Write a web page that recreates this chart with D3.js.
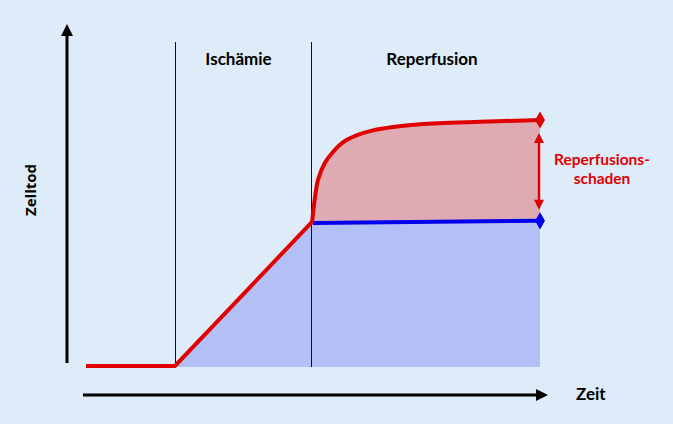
<!DOCTYPE html>
<html>
<head>
<meta charset="utf-8">
<script src="https://cdn.jsdelivr.net/npm/d3@7"></script>
<style>
  body { margin: 0; background: #deebf8; }
  svg { display: block; }
  .phase { font-family: Lato, "Open Sans", sans-serif; font-weight: bold; font-size: 17px; fill: #000; }
  .axlabel { font-family: Lato, "Open Sans", sans-serif; font-weight: bold; font-size: 17px; fill: #000; }
  .ylabel { font-family: "Open Sans", sans-serif; font-weight: bold; font-size: 15px; fill: #000; }
  .damage { font-family: Lato, "Open Sans", sans-serif; font-weight: bold; font-size: 15.5px; fill: #e00000; }
</style>
</head>
<body>
<svg id="chart" width="673" height="424"></svg>
<script>
// time axis (arbitrary units) and cell death (%)
let baseline = [{t: 0, v: 0}, {t: 1.96, v: 0}]
let ischemia = [{t: 1.96, v: 0}, {t: 4.98, v: 41.9}]
let reperfusionRed = [
    {t: 4.98, v: 41.9}, {t: 5.01, v: 45.5}, {t: 5.04, v: 48.6}, {t: 5.11, v: 54.1},
    {t: 5.26, v: 59.0}, {t: 5.44, v: 62.2}, {t: 5.66, v: 65.0}, {t: 5.97, v: 67.1},
    {t: 6.32, v: 68.5}, {t: 6.76, v: 69.5}, {t: 7.36, v: 70.3}, {t: 8.68, v: 71.0},
    {t: 10, v: 71.5}
]
let reperfusionBlue = [{t: 5.0, v: 41.6}, {t: 10, v: 42.2}]
let phaseLines = [1.96, 4.96]
let phaseLabels = [{text: "Ischämie", t: 3.36}, {text: "Reperfusion", t: 7.62}]

let svg = d3.select("#chart")
let x = d3.scaleLinear().domain([0, 10]).range([86, 540])
let y = d3.scaleLinear().domain([0, 100]).range([366, 22])

let defs = svg.append("defs")
function arrowMarker(id, color, w, h) {
    defs.append("marker")
        .attr("id", id)
        .attr("viewBox", "0 0 10 10")
        .attr("refX", 5).attr("refY", 5)
        .attr("markerUnits", "userSpaceOnUse")
        .attr("markerWidth", w).attr("markerHeight", h)
        .attr("orient", "auto-start-reverse")
        .append("path")
        .attr("d", "M0,0 L10,5 L0,10 Z")
        .attr("fill", color)
}
arrowMarker("blackArrow", "#000", 14, 12)
arrowMarker("redArrow", "#e00000", 11, 10)

// fills: pink under red curve, blue on top
let area = d3.area().x(d => x(d.t)).y0(y(0)).y1(d => y(d.v)).curve(d3.curveCatmullRom)
svg.append("path")
    .datum(reperfusionRed)
    .attr("d", area)
    .attr("fill", "#dfaab2")
svg.append("path")
    .datum(ischemia.concat(reperfusionBlue))
    .attr("d", d3.area().x(d => x(d.t)).y0(y(0) + 1).y1(d => y(d.v)))
    .attr("fill", "#b3c0f7")

// phase separators (snapped to half pixels so they stay crisp)
svg.selectAll(".sep")
    .data(phaseLines)
    .enter()
    .append("line")
    .attr("x1", d => Math.round(x(d)) + 0.5).attr("x2", d => Math.round(x(d)) + 0.5)
    .attr("y1", 42).attr("y2", 367)
    .attr("stroke", "#111")
    .attr("stroke-width", 1)

svg.selectAll(".phase")
    .data(phaseLabels)
    .enter()
    .append("text")
    .attr("class", "phase")
    .attr("x", d => x(d.t))
    .attr("y", 65)
    .attr("text-anchor", "middle")
    .text(d => d.text)

// axes
svg.append("line")
    .attr("x1", 67).attr("x2", 67)
    .attr("y1", 363).attr("y2", 30)
    .attr("stroke", "#000").attr("stroke-width", 3)
    .attr("marker-end", "url(#blackArrow)")
svg.append("line")
    .attr("x1", 83).attr("x2", 542)
    .attr("y1", 395).attr("y2", 395)
    .attr("stroke", "#000").attr("stroke-width", 3)
    .attr("marker-end", "url(#blackArrow)")

svg.append("text")
    .attr("class", "axlabel")
    .attr("x", 576).attr("y", 400)
    .text("Zeit")
svg.append("text")
    .attr("class", "ylabel")
    .attr("transform", `translate(${36},${190}) rotate(-90)`)
    .attr("text-anchor", "middle")
    .text("Zelltod")

// curves
let line = d3.line().x(d => x(d.t)).y(d => y(d.v))
svg.append("path")
    .datum(reperfusionBlue)
    .attr("d", line)
    .attr("fill", "none")
    .attr("stroke", "#0000ee")
    .attr("stroke-width", 4)
svg.append("path")
    .datum(baseline.concat(ischemia.slice(1)))
    .attr("d", line)
    .attr("fill", "none")
    .attr("stroke", "#e00000")
    .attr("stroke-width", 4)
svg.append("path")
    .datum(reperfusionRed)
    .attr("d", line.curve(d3.curveCatmullRom))
    .attr("fill", "none")
    .attr("stroke", "#e00000")
    .attr("stroke-width", 4)

// end markers
let redEnd = reperfusionRed[reperfusionRed.length - 1]
let blueEnd = reperfusionBlue[reperfusionBlue.length - 1]
let diamond = d3.symbol().type(d3.symbolDiamond).size(85)
svg.append("path")
    .attr("d", diamond)
    .attr("transform", `translate(${x(redEnd.t)},${y(redEnd.v)})`)
    .attr("fill", "#e00000")
svg.append("path")
    .attr("d", diamond)
    .attr("transform", `translate(${x(blueEnd.t)},${y(blueEnd.v)})`)
    .attr("fill", "#0000ee")

// reperfusion damage arrow
svg.append("line")
    .attr("x1", x(redEnd.t) - 1).attr("x2", x(redEnd.t) - 1)
    .attr("y1", y(redEnd.v) + 18).attr("y2", y(blueEnd.v) - 16)
    .attr("stroke", "#e00000").attr("stroke-width", 2.5)
    .attr("marker-start", "url(#redArrow)")
    .attr("marker-end", "url(#redArrow)")

svg.append("text")
    .attr("class", "damage")
    .attr("x", 602).attr("y", 165)
    .attr("text-anchor", "middle")
    .text("Reperfusions-")
svg.append("text")
    .attr("class", "damage")
    .attr("x", 602).attr("y", 184)
    .attr("text-anchor", "middle")
    .text("schaden")
</script>
</body>
</html>
